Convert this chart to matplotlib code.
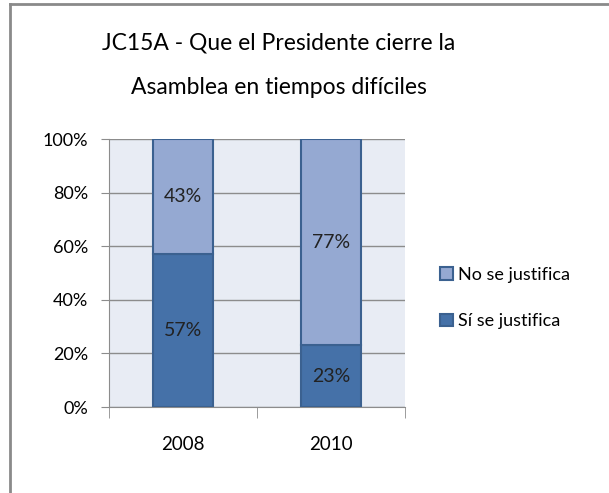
import matplotlib.pyplot as plt
from matplotlib.lines import Line2D

years = ['2008', '2010']
si_justifica = [57, 23]
no_justifica = [43, 77]
series_names = ['Sí se justifica', 'No se justifica']
title_lines = ['JC15A - Que el Presidente cierre la',
               'Asamblea en tiempos difíciles']

plt.rcParams['font.family'] = ['Lato', 'DejaVu Sans']

fig = plt.figure(figsize=(6.09, 4.93), dpi=100)
ax = fig.add_axes([109 / 609, 1 - 407 / 493, 296 / 609, 268 / 493])

dark = '#4571A8'
light = '#95A9D2'
edge = '#3B6190'

x = range(len(years))
b1 = ax.bar(x, si_justifica, width=0.41, color=dark, edgecolor=edge,
            linewidth=1.5, label=series_names[0], zorder=3)
b2 = ax.bar(x, no_justifica, width=0.41, bottom=si_justifica, color=light,
            edgecolor=edge, linewidth=1.5, label=series_names[1], zorder=3)

# data labels in the middle of each segment
for i in x:
    ax.text(i, si_justifica[i] / 2, '%d%%' % si_justifica[i], ha='center',
            va='center', fontsize=14, color='#222222', zorder=4)
    ax.text(i, si_justifica[i] + no_justifica[i] / 2, '%d%%' % no_justifica[i],
            ha='center', va='center', fontsize=14, color='#222222', zorder=4)

ax.set_xlim(-0.5, 1.5)
ax.set_ylim(0, 100)
ax.set_facecolor('#E8ECF4')
ax.set_yticks([0, 20, 40, 60, 80, 100])
ax.set_yticklabels(['0%', '20%', '40%', '60%', '80%', '100%'])
ax.set_xticks(list(x))
ax.set_xticklabels(years)
ax.yaxis.grid(True, color='#8C8C8C', linewidth=1, zorder=0)
ax.tick_params(axis='y', length=6, color='#8C8C8C', labelsize=13, pad=9)
ax.tick_params(axis='x', length=0, labelsize=13.5, pad=21)
# category boundary ticks on the x axis
ax.set_xticks([-0.5, 0.5, 1.5], minor=True)
ax.tick_params(axis='x', which='minor', length=8, color='#8C8C8C')
for s in ['top', 'right']:
    ax.spines[s].set_visible(False)
ax.spines['left'].set_color('#8C8C8C')
ax.spines['bottom'].set_color('#8C8C8C')

fig.text(0.458, 1 - 43 / 493, title_lines[0], ha='center', va='center',
         fontsize=16.5)
fig.text(0.458, 1 - 87 / 493, title_lines[1], ha='center', va='center',
         fontsize=16.5)

ax.legend(handles=[b2, b1], loc='center left',
          bbox_to_anchor=(424 / 609, 1 - 298 / 493),
          bbox_transform=fig.transFigure, frameon=False, fontsize=13,
          handlelength=0.7, handleheight=0.7, handletextpad=0.3,
          labelspacing=1.7)

# outer chart border (top and left only visible)
fig.add_artist(Line2D([10 / 609, 1], [1 - 3.5 / 493, 1 - 3.5 / 493],
                      transform=fig.transFigure, color='#8A8A8A', linewidth=2))
fig.add_artist(Line2D([10 / 609, 10 / 609], [0, 1 - 3.5 / 493],
                      transform=fig.transFigure, color='#8A8A8A', linewidth=2))

fig.savefig('out.png', dpi=100, facecolor='white')
